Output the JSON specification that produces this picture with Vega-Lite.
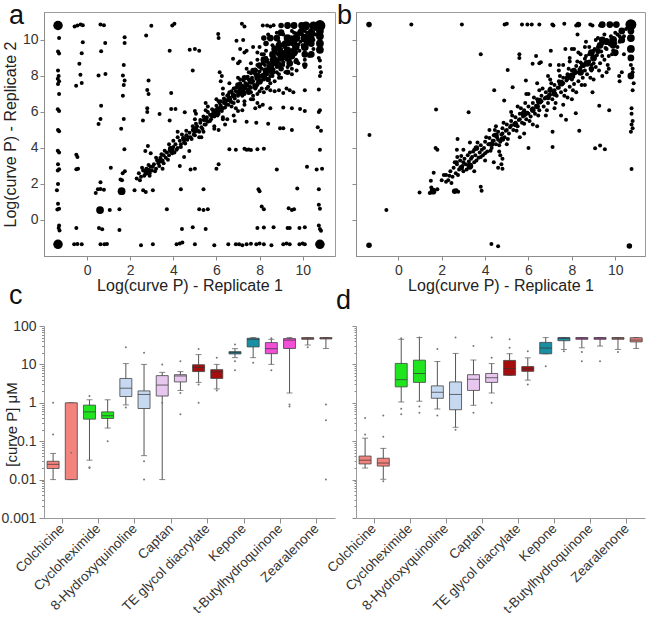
{
  "$schema": "https://vega.github.io/schema/vega-lite/v6.json",
  "padding": {"left": 0, "top": 1, "right": 0, "bottom": 0},
  "background": "white",
  "config": {
    "font": "Liberation Sans",
    "view": {"stroke": null},
    "axis": {
      "labelFont": "Liberation Sans", "labelFontSize": 14, "labelColor": "#333333",
      "titleFont": "Liberation Sans", "titleFontWeight": "normal", "titleFontSize": 16, "titleColor": "#222222",
      "domainColor": "#8c8c8c", "tickColor": "#8c8c8c", "grid": false, "tickSize": 4, "labelPadding": 2
    },
    "title": {"font": "Liberation Sans", "fontWeight": "normal", "fontSize": 27, "color": "#111111", "anchor": "start", "frame": "group", "offset": 0, "baseline": "alphabetic"}
  },
  "datasets": {
    "a_pts": [
      {"x":-1.3,"y":10.1},{"x":-1.35,"y":9.35},{"x":-1.3,"y":9.25},{"x":-1.35,"y":8.3},{"x":-1.32,"y":8.0},{"x":-1.36,"y":7.85},{"x":-1.3,"y":7.7},{"x":-1.35,"y":7.55},{"x":-1.3,"y":7.0},{"x":-1.36,"y":6.15},{"x":-1.3,"y":6.05},{"x":-1.35,"y":5.0},{"x":-1.3,"y":4.93},{"x":-1.36,"y":3.85},{"x":-1.3,"y":3.75},{"x":-1.35,"y":3.1},{"x":-1.36,"y":2.75},{"x":-1.3,"y":2.82},{"x":-1.35,"y":2.0},{"x":-1.4,"y":1.65},{"x":-1.35,"y":0.9},{"x":-1.3,"y":0.62},{"x":-1.38,"y":0.58},{"x":-1.3,"y":-0.3},{"x":-1.32,"y":-0.45},{"x":-1.28,"y":-0.58},
      {"x":-0.58,"y":10.75},{"x":-0.45,"y":10.8},{"x":-0.3,"y":10.85},{"x":-0.2,"y":10.82},{"x":0.62,"y":10.85},{"x":0.78,"y":10.82},{"x":2.98,"y":10.78},{"x":3.95,"y":10.8},{"x":4.05,"y":10.9},{"x":7.18,"y":10.9},{"x":7.3,"y":10.75},{"x":8.15,"y":10.8},{"x":8.35,"y":10.8},{"x":8.5,"y":10.75},{"x":8.65,"y":10.82},
      {"x":-0.2,"y":9.87},{"x":-0.25,"y":9.26},{"x":-0.36,"y":8.67},{"x":-0.31,"y":8.07},{"x":-0.51,"y":7.46},{"x":-0.25,"y":7.61},{"x":-0.5,"y":3.62},{"x":-0.45,"y":3.5},{"x":-0.5,"y":2.82},{"x":-0.42,"y":2.85},{"x":-0.5,"y":-0.45},
      {"x":0.84,"y":9.83},{"x":0.65,"y":9.37},{"x":0.53,"y":8.02},{"x":0.85,"y":8.11},{"x":0.65,"y":6.35},{"x":0.62,"y":5.61},{"x":0.53,"y":5.33},{"x":0.62,"y":2.1},{"x":0.5,"y":1.7},{"x":0.62,"y":1.72},{"x":0.78,"y":1.68},{"x":0.4,"y":1.5},{"x":0.55,"y":-0.45},{"x":0.7,"y":-0.52},{"x":0.62,"y":-1.35},{"x":0.8,"y":-1.35},{"x":0.92,"y":-1.33},
      {"x":1.74,"y":10.15},{"x":1.74,"y":9.83},{"x":1.7,"y":8.61},{"x":1.66,"y":8.02},{"x":1.74,"y":7.74},{"x":1.7,"y":7.5},{"x":1.66,"y":6.9},{"x":1.7,"y":5.61},{"x":1.58,"y":5.06},{"x":1.73,"y":3.93},{"x":1.1,"y":2.9},{"x":1.75,"y":2.7},{"x":1.65,"y":2.6},{"x":1.55,"y":2.25},{"x":1.62,"y":2.2},{"x":1.05,"y":0.55},{"x":1.5,"y":0.6},{"x":1.5,"y":-0.55},
      {"x":2.74,"y":10.24},{"x":2.85,"y":7.74},{"x":2.79,"y":7.22},{"x":2.85,"y":7.0},{"x":2.79,"y":6.2},{"x":2.79,"y":6.0},{"x":2.59,"y":5.52},{"x":2.2,"y":1.65},{"x":2.6,"y":1.65},{"x":2.72,"y":1.55},{"x":3.05,"y":1.65},{"x":2.5,"y":-1.4},{"x":3.05,"y":-1.35},
      {"x":3.83,"y":9.4},{"x":4.76,"y":9.46},{"x":3.9,"y":7.05},{"x":3.36,"y":5.89},{"x":3.9,"y":6.17},{"x":4.1,"y":6.17},{"x":4.53,"y":5.98},{"x":3.83,"y":5.52},{"x":3.7,"y":0.6},{"x":4.35,"y":1.7},{"x":4.4,"y":-0.5},{"x":4.15,"y":-1.35},{"x":4.3,"y":-1.3},{"x":4.42,"y":-1.25},{"x":2.82,"y":4.11},{"x":2.7,"y":3.83},{"x":2.95,"y":3.7},
      {"x":4.9,"y":8.3},{"x":5.0,"y":9.5},{"x":5.2,"y":9.4},{"x":6.08,"y":10.33},{"x":6.1,"y":10.1},{"x":6.15,"y":8.2},{"x":6.25,"y":8.0},{"x":6.2,"y":7.7},{"x":6.3,"y":7.3},{"x":5.0,"y":6.05},{"x":5.05,"y":5.9},{"x":4.8,"y":2.8},{"x":5.0,"y":2.85},{"x":4.74,"y":3.83},{"x":6.0,"y":2.85},{"x":6.1,"y":3.1},{"x":5.9,"y":5.07},{"x":6.1,"y":5.0},{"x":5.4,"y":1.7},{"x":5.2,"y":0.6},{"x":5.4,"y":0.55},{"x":5.6,"y":0.6},{"x":4.9,"y":-0.4},{"x":5.5,"y":-0.5},{"x":5.0,"y":-1.35},{"x":5.9,"y":-1.4},
      {"x":6.6,"y":3.93},{"x":6.9,"y":3.9},{"x":7.3,"y":3.95},{"x":7.4,"y":3.9},{"x":7.5,"y":3.92},{"x":7.6,"y":3.88},{"x":7.9,"y":3.93},{"x":8.2,"y":3.95},{"x":10.8,"y":3.9},
      {"x":8.8,"y":2.8},{"x":10.2,"y":2.95},{"x":10.65,"y":2.8},{"x":10.9,"y":2.85},
      {"x":7.95,"y":1.7},{"x":8.0,"y":1.6},{"x":9.75,"y":1.75},{"x":10.75,"y":1.7},
      {"x":8.1,"y":0.75},{"x":8.2,"y":0.6},{"x":9.35,"y":0.65},{"x":9.5,"y":0.55},{"x":9.6,"y":0.6},{"x":10.75,"y":0.85},{"x":10.8,"y":0.62},
      {"x":7.9,"y":-0.45},{"x":8.2,"y":-0.42},{"x":8.65,"y":-0.4},{"x":9.3,"y":-0.45},{"x":9.4,"y":-0.45},{"x":9.85,"y":-0.45},{"x":10.1,"y":-0.4},{"x":10.75,"y":-0.3},{"x":10.8,"y":-0.5},{"x":10.85,"y":-0.6},
      {"x":6.55,"y":-1.35},{"x":6.9,"y":-1.35},{"x":7.05,"y":-1.35},{"x":7.2,"y":-1.4},{"x":7.4,"y":-1.35},{"x":7.6,"y":-1.32},{"x":7.85,"y":-1.35},{"x":8.0,"y":-1.3},{"x":8.2,"y":-1.35},{"x":8.55,"y":-1.4},{"x":9.1,"y":-1.35},{"x":9.25,"y":-1.3},{"x":9.4,"y":-1.35},{"x":9.85,"y":-1.35},{"x":10.0,"y":-1.3},{"x":10.1,"y":-1.35},{"x":-0.6,"y":-1.35},{"x":-0.45,"y":-1.33},{"x":-0.25,"y":-1.35},
      {"x":6.85,"y":5.5},{"x":7.4,"y":5.45},{"x":7.85,"y":5.4},{"x":8.4,"y":5.35},{"x":8.95,"y":5.1},{"x":9.1,"y":5.1},{"x":9.5,"y":5.0},{"x":10.7,"y":5.15},{"x":10.85,"y":4.95},
      {"x":7.0,"y":6.05},{"x":7.2,"y":6.1},{"x":7.8,"y":6.2},{"x":8.0,"y":6.3},{"x":8.5,"y":6.2},{"x":9.1,"y":6.25},{"x":9.5,"y":6.2},{"x":9.88,"y":6.16},{"x":10.1,"y":6.05},{"x":10.8,"y":6.1},{"x":10.75,"y":6.0},
      {"x":8.33,"y":7.3},{"x":8.5,"y":7.2},{"x":8.7,"y":7.15},{"x":8.9,"y":7.2},{"x":9.1,"y":7.05},{"x":9.25,"y":7.3},{"x":9.4,"y":7.2},{"x":9.57,"y":7.1},{"x":10.1,"y":7.2},{"x":10.75,"y":7.25},{"x":7.7,"y":6.7},{"x":7.9,"y":6.5},{"x":8.15,"y":6.4},
      {"x":10.75,"y":9.0},{"x":10.8,"y":8.85},{"x":10.8,"y":8.5},{"x":10.85,"y":8.2},{"x":10.8,"y":8.0},
      {"x":6.93,"y":9.96},{"x":7.24,"y":10.0},{"x":7.1,"y":9.5},{"x":7.3,"y":9.3},{"x":7.4,"y":9.4},{"x":8.0,"y":9.6},{"x":8.2,"y":9.2},{"x":8.3,"y":9.0},{"x":6.77,"y":8.95},{"x":7.0,"y":8.7},{"x":7.08,"y":8.8},{"x":10.1,"y":8.5},{"x":9.72,"y":8.3},{"x":9.5,"y":8.1},{"x":9.2,"y":8.2},{"x":8.9,"y":8.1},{"x":8.6,"y":8.0},
      {"x":2.3,"y":2.3},{"x":2.4,"y":2.6},{"x":2.5,"y":2.4},{"x":2.6,"y":2.75},{"x":2.7,"y":2.55},{"x":2.75,"y":2.85},{"x":2.9,"y":2.6},{"x":2.95,"y":2.95},{"x":3.0,"y":2.75},{"x":3.1,"y":3.1},{"x":3.2,"y":2.85},{"x":3.25,"y":3.3},{"x":3.3,"y":3.15},{"x":3.4,"y":3.45},{"x":3.5,"y":3.3},{"x":3.55,"y":3.6},{"x":3.65,"y":3.45},{"x":3.7,"y":3.75},{"x":3.8,"y":3.6},{"x":3.85,"y":4.0},{"x":4.0,"y":4.05},{"x":4.05,"y":3.75},{"x":4.1,"y":4.2},{"x":4.2,"y":4.0},{"x":4.3,"y":4.4},{"x":4.35,"y":4.2},{"x":4.45,"y":4.55},{"x":4.5,"y":4.3},{"x":4.6,"y":4.7},{"x":4.65,"y":4.45},{"x":4.75,"y":4.85},{"x":4.8,"y":4.6},{"x":4.9,"y":5.0},{"x":4.95,"y":4.75},{"x":5.1,"y":5.2},{"x":5.15,"y":4.95},{"x":5.25,"y":5.4},{"x":5.3,"y":5.15},{"x":5.4,"y":5.55},{"x":5.45,"y":5.3},{"x":5.55,"y":5.7},{"x":5.6,"y":5.45},{"x":5.7,"y":5.85},{"x":5.75,"y":5.6},{"x":5.85,"y":6.0},{"x":5.9,"y":5.75},{"x":6.05,"y":6.2},{"x":6.1,"y":5.9},{"x":6.2,"y":6.35},{"x":6.25,"y":6.05},{"x":6.35,"y":6.5},{"x":6.4,"y":6.25},{"x":6.5,"y":6.65},{"x":6.55,"y":6.4},{"x":6.6,"y":6.8},{"x":6.7,"y":6.55},{"x":6.75,"y":7.0},{"x":6.85,"y":6.75},{"x":6.9,"y":7.15},{"x":7.0,"y":6.9},{"x":7.05,"y":7.3},{"x":7.15,"y":7.0},{"x":7.2,"y":7.45},{"x":7.3,"y":7.1},{"x":7.35,"y":7.6},{"x":7.45,"y":7.25},{"x":7.5,"y":7.8},{"x":7.6,"y":7.35},{"x":7.65,"y":7.9},{"x":7.75,"y":7.5},{"x":7.8,"y":8.1},{"x":7.9,"y":7.6},{"x":8.0,"y":8.25},{"x":8.05,"y":7.7},{"x":8.1,"y":8.4},{"x":8.2,"y":7.9},{"x":8.25,"y":8.6},{"x":8.35,"y":8.1},{"x":8.4,"y":8.75},{"x":8.5,"y":8.2},{"x":8.55,"y":8.9},{"x":8.65,"y":8.35},{"x":8.7,"y":9.05},{"x":8.8,"y":8.5},{"x":8.85,"y":9.2},{"x":8.95,"y":8.6},{"x":9.0,"y":9.5},{"x":9.1,"y":8.75},{"x":9.15,"y":9.6},{"x":9.25,"y":8.9},{"x":9.35,"y":9.75},{"x":9.45,"y":9.05},{"x":9.55,"y":9.95},{"x":9.65,"y":9.2},{"x":9.75,"y":10.1},{"x":9.85,"y":9.4},{"x":9.95,"y":10.3},{"x":10.05,"y":9.55},{"x":10.2,"y":10.4},{"x":10.3,"y":9.8},{"x":10.4,"y":10.6},{"x":10.5,"y":10.0},
      {"x":6.5,"y":5.6},{"x":6.8,"y":5.8},{"x":7.3,"y":6.4},{"x":7.6,"y":6.7},{"x":7.9,"y":7.0},{"x":8.2,"y":7.1},{"x":8.4,"y":7.4},{"x":8.7,"y":7.7},{"x":9.0,"y":7.9},{"x":9.3,"y":8.2},{"x":9.5,"y":8.4},{"x":9.8,"y":8.7},{"x":10.1,"y":8.9},{"x":10.3,"y":9.1},{"x":7.2,"y":7.15},{"x":7.5,"y":7.2},{"x":7.8,"y":7.3},{"x":8.0,"y":7.15},
      {"x":3.5,"y":2.85},{"x":4.5,"y":3.5},{"x":4.3,"y":3.0},{"x":5.5,"y":6.1},{"x":5.2,"y":4.6},{"x":5.4,"y":4.9},{"x":6.3,"y":5.6},{"x":6.4,"y":5.3},{"x":4.2,"y":4.9},{"x":5.5,"y":6.5},{"x":6.0,"y":6.7},{"x":6.3,"y":7.0},{"x":6.6,"y":7.6},{"x":7.0,"y":7.9},{"x":7.4,"y":8.4},{"x":7.6,"y":8.7},{"x":7.9,"y":8.9},{"x":8.1,"y":9.2},{"x":7.7,"y":9.6},{"x":7.9,"y":9.3},{"x":8.3,"y":9.4},{"x":8.6,"y":9.7},{"x":8.9,"y":9.9},{"x":9.1,"y":10.3},{"x":8.8,"y":10.4},{"x":8.4,"y":10.3},{"x":9.6,"y":10.4},{"x":10.0,"y":10.6},
      {"x":2.45,"y":2.2},{"x":2.55,"y":2.9},{"x":2.65,"y":2.45},{"x":2.85,"y":3.05},{"x":2.9,"y":2.45},{"x":3.05,"y":2.95},{"x":3.15,"y":2.7},{"x":3.2,"y":3.45},{"x":3.35,"y":3.0},{"x":3.45,"y":3.65},{"x":3.55,"y":3.15},{"x":3.6,"y":3.85},{"x":3.75,"y":3.35},{"x":3.8,"y":4.2},{"x":3.95,"y":3.7},{"x":4.0,"y":4.4},{"x":4.15,"y":3.9},{"x":4.2,"y":4.6},{"x":4.35,"y":4.05},{"x":4.4,"y":4.75},{"x":4.55,"y":4.25},{"x":4.6,"y":4.95},{"x":4.7,"y":4.6},{"x":4.85,"y":4.5},{"x":4.9,"y":5.2},{"x":5.0,"y":4.7},{"x":5.05,"y":5.35},{"x":5.2,"y":4.9},{"x":5.25,"y":5.55},{"x":5.35,"y":5.05},{"x":5.4,"y":5.75},{"x":5.5,"y":5.3},{"x":5.6,"y":6.0},{"x":5.7,"y":5.5},{"x":5.8,"y":6.15},{"x":5.9,"y":5.9},{"x":6.0,"y":6.35},{"x":6.05,"y":5.8},{"x":6.15,"y":6.5},{"x":6.3,"y":6.2},{"x":6.35,"y":6.75},{"x":6.45,"y":6.4},{"x":6.55,"y":6.95},{"x":6.65,"y":6.6},{"x":6.7,"y":7.15},{"x":6.8,"y":6.5},{"x":6.9,"y":7.35},{"x":7.0,"y":7.0},{"x":7.1,"y":7.55},{"x":7.2,"y":6.9},{"x":7.25,"y":7.75},{"x":7.35,"y":7.3},{"x":7.45,"y":7.95},{"x":7.55,"y":7.4},{"x":7.6,"y":8.15},{"x":7.7,"y":7.7},{"x":7.8,"y":8.35},{"x":7.85,"y":7.85},{"x":7.95,"y":8.55},{"x":8.05,"y":8.0},{"x":8.15,"y":8.7},{"x":8.25,"y":8.15},{"x":8.35,"y":8.9},{"x":8.45,"y":8.4},{"x":8.55,"y":9.1},{"x":8.6,"y":8.6},{"x":8.75,"y":9.3},{"x":8.8,"y":8.8},{"x":8.9,"y":9.45},{"x":9.0,"y":8.95},{"x":9.1,"y":9.7},{"x":9.2,"y":9.2},{"x":9.3,"y":9.9},{"x":9.4,"y":9.35},{"x":9.5,"y":10.15},{"x":9.6,"y":9.6},{"x":9.7,"y":10.35},{"x":9.8,"y":9.75},{"x":9.9,"y":10.55},{"x":10.0,"y":10.0},{"x":10.2,"y":10.65},{"x":10.3,"y":10.3},{"x":10.45,"y":10.45},{"x":10.6,"y":10.6},
      {"x":5.0,"y":5.6},{"x":5.3,"y":4.6},{"x":5.6,"y":6.3},{"x":5.9,"y":5.2},{"x":6.1,"y":6.6},{"x":6.3,"y":5.7},{"x":6.6,"y":7.1},{"x":6.9,"y":6.2},{"x":7.1,"y":7.8},{"x":7.3,"y":6.6},{"x":7.5,"y":8.2},{"x":7.7,"y":6.9},{"x":7.9,"y":8.6},{"x":8.1,"y":7.3},{"x":8.3,"y":9.0},{"x":8.5,"y":7.6},{"x":8.7,"y":9.4},{"x":8.9,"y":7.9},{"x":9.1,"y":9.8},{"x":9.3,"y":8.5},{"x":9.5,"y":10.5},{"x":9.7,"y":8.9},{"x":9.9,"y":9.9},{"x":10.1,"y":9.3},{"x":10.3,"y":10.8},{"x":10.5,"y":9.5},{"x":6.7,"y":6.3},{"x":7.0,"y":6.6},{"x":7.3,"y":7.0},{"x":7.6,"y":7.1},{"x":7.9,"y":7.5},{"x":8.2,"y":7.8},{"x":8.5,"y":8.0},{"x":8.8,"y":8.2},{"x":9.1,"y":8.6},{"x":9.4,"y":8.9},{"x":9.7,"y":9.3},{"x":10.0,"y":9.7},{"x":10.3,"y":10.0},{"x":10.6,"y":10.3},{"x":6.2,"y":6.6},{"x":6.5,"y":6.9},{"x":6.8,"y":7.3},{"x":7.1,"y":7.6},{"x":7.4,"y":7.9},{"x":7.7,"y":8.2},{"x":8.0,"y":8.5},{"x":8.3,"y":8.8},{"x":8.6,"y":9.1},{"x":8.9,"y":9.3},{"x":9.2,"y":9.6},{"x":9.5,"y":9.8},{"x":9.8,"y":10.1},{"x":10.1,"y":10.5}
    ],
    "a_blobs": [
      {"x":-1.35,"y":10.8,"n":6},{"x":-1.35,"y":-1.35,"n":6},{"x":10.8,"y":-1.35,"n":6},{"x":10.8,"y":10.8,"n":8},{"x":10.8,"y":10.2,"n":4},{"x":10.8,"y":9.8,"n":4},{"x":10.8,"y":9.45,"n":4},{"x":10.15,"y":10.8,"n":4},{"x":9.95,"y":10.8,"n":3},{"x":9.6,"y":10.8,"n":3},{"x":9.3,"y":10.8,"n":3},{"x":9.0,"y":10.8,"n":2},{"x":10.1,"y":10.1,"n":5},{"x":10.1,"y":9.6,"n":4},{"x":10.1,"y":9.2,"n":3},{"x":9.3,"y":10.1,"n":4},{"x":9.5,"y":9.9,"n":4},{"x":9.3,"y":9.4,"n":4},{"x":9.0,"y":9.0,"n":4},{"x":9.6,"y":9.4,"n":3},{"x":8.7,"y":8.8,"n":6},{"x":8.5,"y":8.5,"n":4},{"x":8.3,"y":8.3,"n":3},{"x":8.5,"y":10.1,"n":3},{"x":8.3,"y":9.8,"n":2},{"x":8.7,"y":9.5,"n":3},{"x":9.0,"y":9.3,"n":3},{"x":8.2,"y":10.1,"n":2},{"x":7.9,"y":8.0,"n":3},{"x":7.6,"y":7.7,"n":3},{"x":7.4,"y":7.5,"n":2},{"x":7.1,"y":7.1,"n":3},{"x":6.8,"y":6.9,"n":2},{"x":6.0,"y":6.0,"n":4},{"x":5.0,"y":5.0,"n":3},{"x":3.9,"y":3.9,"n":3},{"x":2.8,"y":2.7,"n":4},{"x":0.6,"y":0.55,"n":4},{"x":1.6,"y":1.6,"n":4},{"x":9.7,"y":8.8,"n":2},{"x":9.3,"y":8.2,"n":2},
      {"x":8.2,"y":8.9,"n":3},{"x":8.6,"y":9.2,"n":3},{"x":8.9,"y":9.7,"n":3},{"x":9.2,"y":9.8,"n":3},{"x":9.7,"y":10.1,"n":4},{"x":9.7,"y":9.6,"n":3},{"x":10.4,"y":10.4,"n":4},{"x":10.4,"y":9.8,"n":3},{"x":10.5,"y":10.8,"n":4},{"x":8.8,"y":10.1,"n":3},{"x":9.0,"y":10.4,"n":3},{"x":8.0,"y":8.6,"n":2},{"x":7.7,"y":8.3,"n":2},{"x":7.3,"y":7.9,"n":2},{"x":9.4,"y":8.7,"n":3},{"x":9.0,"y":8.4,"n":2},{"x":10.1,"y":8.6,"n":2},{"x":10.4,"y":9.2,"n":3},{"x":7.0,"y":7.5,"n":2},{"x":6.4,"y":6.6,"n":2},{"x":5.5,"y":5.6,"n":2},{"x":4.5,"y":4.5,"n":2},{"x":3.4,"y":3.3,"n":2},{"x":6.2,"y":6.2,"n":2},{"x":7.8,"y":7.4,"n":2},{"x":8.4,"y":7.8,"n":2},
      {"x":7.2,"y":7.3,"n":3},{"x":7.5,"y":7.1,"n":2},{"x":8.0,"y":7.7,"n":3},{"x":8.2,"y":8.0,"n":3},{"x":8.9,"y":8.6,"n":3},{"x":9.2,"y":9.1,"n":4},{"x":9.6,"y":9.8,"n":3},{"x":9.9,"y":10.4,"n":3},{"x":10.4,"y":10.1,"n":3},{"x":10.8,"y":10.5,"n":4},{"x":8.6,"y":8.2,"n":2},{"x":9.5,"y":9.1,"n":3},{"x":10.2,"y":9.9,"n":3},{"x":7.8,"y":8.3,"n":2},{"x":6.6,"y":6.7,"n":2},{"x":5.8,"y":5.8,"n":2}
    ],
    "b_pts": [
      {"x":0.6,"y":10.85},{"x":2.93,"y":10.85},{"x":4.9,"y":10.85},{"x":5.0,"y":10.9},{"x":5.7,"y":10.85},{"x":5.95,"y":10.85},{"x":6.15,"y":10.85},{"x":6.5,"y":10.85},{"x":7.1,"y":10.85},{"x":7.15,"y":10.8},{"x":7.65,"y":10.9},{"x":8.2,"y":10.8},{"x":8.85,"y":10.85},{"x":8.95,"y":10.8},{"x":9.3,"y":10.8},
      {"x":-1.33,"y":4.72},{"x":-0.55,"y":0.55},{"x":0.98,"y":1.52},{"x":1.74,"y":6.13},{"x":2.73,"y":4.5},{"x":1.72,"y":4.0},{"x":1.8,"y":3.9},{"x":3.24,"y":5.98},{"x":3.8,"y":1.85},{"x":3.84,"y":1.63},{"x":4.29,"y":-1.33},{"x":4.6,"y":-1.46},{"x":10.75,"y":2.83},{"x":9.72,"y":6.1},{"x":9.26,"y":6.35},{"x":9.07,"y":3.98},{"x":9.3,"y":4.13},{"x":9.52,"y":3.93},{"x":8.34,"y":4.96},{"x":7.11,"y":4.05},{"x":6.0,"y":4.0},{"x":7.11,"y":4.9},{"x":7.73,"y":5.56},{"x":8.18,"y":5.93},{"x":10.75,"y":6.2},{"x":10.75,"y":5.9},{"x":10.8,"y":5.5},{"x":10.75,"y":5.3},{"x":10.8,"y":5.1},{"x":10.72,"y":4.9},{"x":10.8,"y":7.2},{"x":10.85,"y":7.6},{"x":10.8,"y":8.2},{"x":10.18,"y":8.0},{"x":4.42,"y":7.2},{"x":5.04,"y":8.33},{"x":5.88,"y":7.74},{"x":5.27,"y":7.37},{"x":4.88,"y":6.63},{"x":6.19,"y":8.67},{"x":6.57,"y":8.76},{"x":3.8,"y":9.2},{"x":5.58,"y":9.2},{"x":5.58,"y":9.0},{"x":7.03,"y":9.4},{"x":6.35,"y":9.1},{"x":10.0,"y":9.2},{"x":9.7,"y":8.4},{"x":10.2,"y":7.7},
      {"x":2.6,"y":1.62},{"x":2.68,"y":1.65},{"x":2.76,"y":1.57},{"x":2.0,"y":2.2},{"x":1.5,"y":2.18},{"x":1.63,"y":2.63},{"x":2.1,"y":2.5},{"x":2.2,"y":2.13},{"x":1.45,"y":1.5},{"x":1.8,"y":1.7},{"x":1.52,"y":1.8},{"x":2.7,"y":3.9},{"x":2.72,"y":3.5},{"x":2.69,"y":3.2},{"x":4.4,"y":3.2},{"x":4.6,"y":2.9},{"x":4.8,"y":3.4},{"x":4.65,"y":3.8},{"x":4.7,"y":3.6},{"x":4.75,"y":3.1},{"x":4.8,"y":2.85},{"x":5.6,"y":4.6},
      {"x":2.2,"y":2.5},{"x":2.3,"y":2.2},{"x":2.4,"y":2.7},{"x":2.5,"y":2.4},{"x":2.55,"y":2.9},{"x":2.65,"y":2.6},{"x":2.7,"y":3.1},{"x":2.8,"y":2.8},{"x":2.85,"y":3.3},{"x":2.95,"y":3.0},{"x":3.0,"y":2.7},{"x":3.05,"y":3.4},{"x":3.1,"y":3.1},{"x":3.2,"y":3.6},{"x":3.25,"y":3.25},{"x":3.3,"y":2.9},{"x":3.4,"y":3.5},{"x":3.45,"y":3.8},{"x":3.5,"y":3.2},{"x":3.55,"y":3.6},{"x":3.6,"y":3.95},{"x":3.7,"y":3.45},{"x":3.75,"y":3.75},{"x":3.8,"y":4.15},{"x":3.9,"y":3.6},{"x":3.95,"y":4.0},{"x":4.0,"y":4.35},{"x":4.1,"y":3.8},{"x":4.15,"y":4.2},{"x":4.2,"y":4.55},{"x":4.3,"y":4.0},{"x":4.35,"y":4.4},{"x":4.4,"y":4.7},{"x":4.5,"y":4.2},{"x":4.55,"y":4.6},{"x":4.6,"y":4.9},{"x":4.7,"y":4.35},{"x":4.75,"y":4.75},{"x":4.8,"y":5.1},{"x":4.9,"y":4.6},{"x":4.95,"y":4.95},{"x":5.0,"y":5.3},{"x":5.1,"y":4.8},{"x":5.15,"y":5.15},{"x":5.2,"y":5.5},{"x":5.3,"y":5.0},{"x":5.35,"y":5.35},{"x":5.4,"y":5.7},{"x":5.5,"y":5.2},{"x":5.55,"y":5.55},{"x":5.6,"y":5.9},{"x":5.7,"y":5.4},{"x":5.75,"y":5.75},{"x":5.8,"y":6.1},{"x":5.9,"y":5.6},{"x":5.95,"y":5.95},{"x":6.0,"y":6.3},{"x":6.1,"y":5.75},{"x":6.15,"y":6.15},{"x":6.2,"y":6.5},{"x":6.3,"y":5.9},{"x":6.35,"y":6.35},{"x":6.4,"y":6.7},{"x":6.5,"y":6.1},{"x":6.55,"y":6.55},{"x":6.6,"y":6.9},{"x":6.7,"y":6.3},{"x":6.75,"y":6.75},{"x":6.8,"y":7.1},{"x":6.9,"y":6.5},{"x":6.95,"y":6.95},{"x":7.0,"y":7.3},{"x":7.1,"y":6.7},{"x":7.15,"y":7.15},{"x":7.2,"y":7.5},{"x":7.3,"y":6.9},{"x":7.35,"y":7.35},{"x":7.4,"y":7.7},{"x":7.5,"y":7.1},{"x":7.55,"y":7.55},{"x":7.6,"y":7.9},{"x":7.7,"y":7.2},{"x":7.75,"y":7.75},{"x":7.8,"y":8.1},{"x":7.9,"y":7.4},{"x":7.95,"y":7.95},{"x":8.0,"y":8.3},{"x":8.1,"y":7.55},{"x":8.15,"y":8.15},{"x":8.2,"y":8.55},{"x":8.3,"y":7.7},{"x":8.35,"y":8.35},{"x":8.4,"y":8.75},{"x":8.5,"y":7.9},{"x":8.55,"y":8.55},{"x":8.6,"y":8.95},{"x":8.7,"y":8.1},{"x":8.75,"y":8.75},{"x":8.8,"y":9.2},{"x":8.9,"y":8.3},{"x":8.95,"y":8.95},{"x":9.0,"y":9.4},{"x":9.1,"y":8.5},{"x":9.15,"y":9.15},{"x":9.2,"y":9.6},{"x":9.3,"y":8.7},{"x":9.35,"y":9.35},{"x":9.4,"y":9.8},{"x":9.5,"y":8.9},{"x":9.55,"y":9.55},{"x":9.6,"y":10.0},{"x":9.7,"y":9.1},{"x":9.75,"y":9.75},{"x":9.8,"y":10.2},{"x":9.9,"y":9.4},{"x":10.0,"y":10.4},{"x":10.1,"y":9.6},{"x":10.2,"y":10.2},
      {"x":3.0,"y":3.9},{"x":3.5,"y":2.7},{"x":4.0,"y":3.3},{"x":4.5,"y":5.2},{"x":5.0,"y":4.2},{"x":5.5,"y":6.3},{"x":5.8,"y":4.8},{"x":6.2,"y":5.3},{"x":6.5,"y":7.2},{"x":6.8,"y":5.8},{"x":7.0,"y":7.8},{"x":7.2,"y":6.2},{"x":7.4,"y":8.3},{"x":7.8,"y":6.8},{"x":7.9,"y":8.8},{"x":8.2,"y":7.1},{"x":8.4,"y":9.2},{"x":8.6,"y":7.5},{"x":8.8,"y":9.6},{"x":9.0,"y":7.8},{"x":9.2,"y":10.1},{"x":9.6,"y":8.2},{"x":6.0,"y":7.0},{"x":6.4,"y":5.2},{"x":7.6,"y":6.4},{"x":8.1,"y":9.5},{"x":5.2,"y":6.0},{"x":4.2,"y":5.0},{"x":3.3,"y":4.3},{"x":8.0,"y":6.7},{"x":7.5,"y":5.8},{"x":8.95,"y":7.1},
      {"x":10.72,"y":8.6},{"x":10.8,"y":8.4},{"x":10.7,"y":9.0},{"x":10.4,"y":9.2},{"x":10.3,"y":8.2},{"x":8.26,"y":10.3},{"x":8.65,"y":9.9},{"x":7.7,"y":9.5},{"x":8.0,"y":9.5},{"x":7.6,"y":8.6},{"x":7.0,"y":8.6},{"x":6.5,"y":8.7},{"x":8.9,"y":8.6},{"x":9.4,"y":8.0},
      {"x":2.35,"y":2.45},{"x":2.45,"y":2.05},{"x":2.6,"y":3.2},{"x":2.75,"y":2.5},{"x":2.9,"y":3.55},{"x":3.0,"y":3.2},{"x":3.15,"y":2.8},{"x":3.3,"y":3.75},{"x":3.35,"y":3.4},{"x":3.5,"y":3.9},{"x":3.6,"y":3.3},{"x":3.65,"y":4.3},{"x":3.8,"y":3.5},{"x":3.85,"y":3.9},{"x":4.0,"y":3.7},{"x":4.05,"y":4.6},{"x":4.2,"y":4.2},{"x":4.25,"y":3.85},{"x":4.4,"y":4.4},{"x":4.45,"y":5.0},{"x":4.6,"y":4.45},{"x":4.65,"y":4.15},{"x":4.8,"y":4.8},{"x":4.85,"y":5.4},{"x":5.0,"y":5.0},{"x":5.05,"y":4.5},{"x":5.2,"y":5.25},{"x":5.25,"y":5.8},{"x":5.4,"y":5.4},{"x":5.45,"y":4.95},{"x":5.6,"y":5.6},{"x":5.65,"y":6.2},{"x":5.8,"y":5.35},{"x":5.85,"y":6.5},{"x":6.0,"y":5.9},{"x":6.05,"y":5.5},{"x":6.2,"y":6.2},{"x":6.25,"y":6.8},{"x":6.4,"y":6.35},{"x":6.45,"y":5.8},{"x":6.6,"y":6.6},{"x":6.65,"y":7.3},{"x":6.8,"y":6.8},{"x":6.85,"y":6.1},{"x":7.0,"y":6.95},{"x":7.05,"y":7.6},{"x":7.2,"y":7.2},{"x":7.25,"y":6.5},{"x":7.4,"y":7.35},{"x":7.45,"y":8.0},{"x":7.6,"y":7.6},{"x":7.65,"y":6.9},{"x":7.8,"y":7.85},{"x":7.85,"y":8.4},{"x":8.0,"y":7.8},{"x":8.05,"y":7.2},{"x":8.2,"y":8.2},{"x":8.25,"y":8.8},{"x":8.4,"y":8.45},{"x":8.45,"y":7.5},{"x":8.6,"y":8.3},{"x":8.65,"y":9.1},{"x":8.8,"y":8.8},{"x":8.85,"y":7.9},{"x":9.0,"y":8.7},{"x":9.05,"y":9.5},{"x":9.2,"y":9.3},{"x":9.25,"y":8.3},{"x":9.4,"y":9.1},{"x":9.45,"y":9.9},{"x":9.6,"y":9.5},{"x":9.65,"y":8.6},{"x":9.8,"y":9.85},{"x":9.85,"y":9.2},{"x":10.0,"y":9.8},{"x":10.1,"y":10.3},{"x":10.2,"y":9.9},{"x":10.3,"y":10.5},{"x":10.4,"y":10.2},{"x":10.5,"y":10.6},{"x":9.5,"y":10.3},{"x":9.1,"y":10.0},{"x":8.6,"y":9.6},{"x":8.3,"y":9.3},{"x":7.9,"y":9.0},{"x":7.4,"y":8.6},{"x":6.9,"y":8.0},{"x":6.4,"y":7.6},{"x":5.9,"y":7.0}
    ],
    "b_blobs": [
      {"x":10.72,"y":10.85,"n":8},{"x":10.05,"y":10.85,"n":3},{"x":9.75,"y":10.85,"n":3},{"x":9.4,"y":10.85,"n":3},{"x":8.3,"y":10.85,"n":2},{"x":10.72,"y":10.1,"n":4},{"x":10.72,"y":9.5,"n":4},{"x":10.72,"y":8.0,"n":3},{"x":9.9,"y":10.0,"n":4},{"x":9.4,"y":10.0,"n":3},{"x":10.0,"y":9.3,"n":3},{"x":9.0,"y":9.0,"n":3},{"x":8.7,"y":8.7,"n":3},{"x":8.4,"y":8.2,"n":3},{"x":5.8,"y":5.9,"n":3},{"x":4.8,"y":4.5,"n":2},{"x":3.3,"y":3.0,"n":3},{"x":1.6,"y":1.6,"n":3},{"x":-1.35,"y":10.85,"n":2},{"x":-1.35,"y":-1.4,"n":2},{"x":10.65,"y":-1.44,"n":2},{"x":6.5,"y":6.6,"n":3},{"x":7.5,"y":7.6,"n":3},{"x":8.0,"y":8.0,"n":3},{"x":3.6,"y":4.0,"n":2},{"x":4.5,"y":4.7,"n":2},
      {"x":10.3,"y":10.5,"n":3},{"x":9.9,"y":9.7,"n":3},{"x":9.2,"y":9.4,"n":2},{"x":8.9,"y":8.4,"n":2},{"x":8.1,"y":8.3,"n":2},{"x":7.2,"y":7.0,"n":2},{"x":6.9,"y":6.8,"n":2},{"x":6.2,"y":6.1,"n":2},{"x":5.4,"y":5.3,"n":2},{"x":4.3,"y":4.2,"n":2},{"x":2.9,"y":2.9,"n":2},{"x":2.6,"y":1.6,"n":2},{"x":10.72,"y":9.0,"n":3},{"x":10.72,"y":10.5,"n":3},
      {"x":9.6,"y":9.9,"n":3},{"x":10.3,"y":10.0,"n":3},{"x":9.3,"y":9.7,"n":3},{"x":8.9,"y":9.3,"n":3},{"x":8.5,"y":8.6,"n":2},{"x":7.8,"y":7.9,"n":2},{"x":7.0,"y":7.2,"n":2},{"x":6.4,"y":6.3,"n":2}
    ],
    "box_c": [
      {"comp":"Colchicine","rep":"1","lo":0.01,"q1":0.0195,"med":0.025,"q3":0.03,"hi":0.048},
      {"comp":"Colchicine","rep":"2","lo":0.01,"q1":0.01,"q3":1.0,"hi":1.0},
      {"comp":"Cycloheximide","rep":"1","lo":0.032,"q1":0.375,"med":0.58,"q3":0.87,"hi":1.2},
      {"comp":"Cycloheximide","rep":"2","lo":0.22,"q1":0.39,"med":0.46,"q3":0.58,"hi":1.2},
      {"comp":"8-Hydroxyquinoline","rep":"1","lo":0.88,"q1":1.46,"med":2.4,"q3":4.3,"hi":10.5},
      {"comp":"8-Hydroxyquinoline","rep":"2","lo":0.042,"q1":0.71,"med":1.65,"q3":2.04,"hi":10},
      {"comp":"Captan","rep":"1","lo":0.01,"q1":1.5,"med":2.9,"q3":5.1,"hi":6.2},
      {"comp":"Captan","rep":"2","lo":2.1,"q1":3.5,"med":5.0,"q3":5.4,"hi":6.5},
      {"comp":"TE glycol diacrylate","rep":"1","lo":3.4,"q1":6.5,"med":8.3,"q3":9.8,"hi":18},
      {"comp":"TE glycol diacrylate","rep":"2","lo":2.3,"q1":4.3,"med":6.4,"q3":7.3,"hi":10},
      {"comp":"Kepone","rep":"1","lo":15,"q1":18.7,"med":20.3,"q3":21.5,"hi":25.7},
      {"comp":"Kepone","rep":"2","lo":15,"q1":28.5,"med":45,"q3":48,"hi":50},
      {"comp":"t-Butylhydroquinone","rep":"1","lo":10,"q1":19,"med":25.7,"q3":37,"hi":45},
      {"comp":"t-Butylhydroquinone","rep":"2","lo":1.8,"q1":26,"med":43,"q3":47,"hi":50},
      {"comp":"Zearalenone","rep":"1","lo":32,"q1":45,"med":47,"q3":50,"hi":50},
      {"comp":"Zearalenone","rep":"2","lo":26,"q1":46,"med":48,"q3":50,"hi":50}
    ],
    "out_c": [
      {"comp":"Colchicine","rep":"1","v":1.0},{"comp":"Colchicine","rep":"1","v":0.15},{"comp":"Colchicine","rep":"2","v":0.05},
      {"comp":"Cycloheximide","rep":"1","v":1.5},{"comp":"Cycloheximide","rep":"1","v":0.02},{"comp":"Cycloheximide","rep":"1","v":0.021},{"comp":"Cycloheximide","rep":"2","v":0.1},
      {"comp":"8-Hydroxyquinoline","rep":"1","v":28},{"comp":"8-Hydroxyquinoline","rep":"1","v":0.75},{"comp":"8-Hydroxyquinoline","rep":"2","v":20},{"comp":"8-Hydroxyquinoline","rep":"2","v":0.03},{"comp":"8-Hydroxyquinoline","rep":"2","v":0.01},
      {"comp":"Captan","rep":"1","v":10},{"comp":"Captan","rep":"1","v":1.0},{"comp":"Captan","rep":"2","v":12},{"comp":"Captan","rep":"2","v":0.5},{"comp":"Captan","rep":"2","v":1.8},
      {"comp":"TE glycol diacrylate","rep":"1","v":25},{"comp":"TE glycol diacrylate","rep":"1","v":1.0},{"comp":"TE glycol diacrylate","rep":"1","v":3.0},{"comp":"TE glycol diacrylate","rep":"2","v":15},{"comp":"TE glycol diacrylate","rep":"2","v":2.1},
      {"comp":"Kepone","rep":"1","v":33},{"comp":"Kepone","rep":"1","v":7},{"comp":"Kepone","rep":"1","v":12},{"comp":"Kepone","rep":"2","v":11},
      {"comp":"t-Butylhydroquinone","rep":"1","v":7},{"comp":"t-Butylhydroquinone","rep":"1","v":48},{"comp":"t-Butylhydroquinone","rep":"2","v":0.9},{"comp":"t-Butylhydroquinone","rep":"2","v":0.8},
      {"comp":"Zearalenone","rep":"1","v":28},{"comp":"Zearalenone","rep":"2","v":0.9},{"comp":"Zearalenone","rep":"2","v":0.35},{"comp":"Zearalenone","rep":"2","v":0.01}
    ],
    "box_d": [
      {"comp":"Colchicine","rep":"1","lo":0.02,"q1":0.0256,"med":0.032,"q3":0.041,"hi":0.12},
      {"comp":"Colchicine","rep":"2","lo":0.0102,"q1":0.0225,"med":0.027,"q3":0.036,"hi":0.065},
      {"comp":"Cycloheximide","rep":"1","lo":1.05,"q1":2.6,"med":4.0,"q3":10.6,"hi":45},
      {"comp":"Cycloheximide","rep":"2","lo":1.1,"q1":3.4,"med":5.8,"q3":12.9,"hi":50},
      {"comp":"8-Hydroxyquinoline","rep":"1","lo":0.69,"q1":1.31,"med":1.88,"q3":2.76,"hi":11.9},
      {"comp":"8-Hydroxyquinoline","rep":"2","lo":0.23,"q1":0.66,"med":1.65,"q3":3.5,"hi":19.3},
      {"comp":"Captan","rep":"1","lo":0.86,"q1":2.1,"med":4.1,"q3":5.4,"hi":13},
      {"comp":"Captan","rep":"2","lo":1.8,"q1":3.4,"med":4.5,"q3":5.8,"hi":10.5},
      {"comp":"TE glycol diacrylate","rep":"1","lo":5.2,"q1":5.2,"med":7.8,"q3":12.7,"hi":19},
      {"comp":"TE glycol diacrylate","rep":"2","lo":3.9,"q1":6.6,"med":7.7,"q3":8.8,"hi":14.8},
      {"comp":"Kepone","rep":"1","lo":18.9,"q1":18.9,"med":26.6,"q3":37.4,"hi":50},
      {"comp":"Kepone","rep":"2","lo":24.5,"q1":41.4,"med":47.6,"q3":50,"hi":50},
      {"comp":"t-Butylhydroquinone","rep":"1","lo":27,"q1":45,"med":48,"q3":50,"hi":50},
      {"comp":"t-Butylhydroquinone","rep":"2","lo":30,"q1":45,"med":48,"q3":50,"hi":50},
      {"comp":"Zearalenone","rep":"1","lo":24.5,"q1":45,"med":48,"q3":50,"hi":50},
      {"comp":"Zearalenone","rep":"2","lo":26,"q1":38.5,"med":43,"q3":49.5,"hi":50}
    ],
    "out_d": [
      {"comp":"Colchicine","rep":"1","v":0.4},{"comp":"Colchicine","rep":"1","v":0.15},{"comp":"Colchicine","rep":"2","v":0.47},{"comp":"Colchicine","rep":"2","v":0.13},{"comp":"Colchicine","rep":"2","v":0.009},
      {"comp":"Cycloheximide","rep":"1","v":0.7},{"comp":"Cycloheximide","rep":"1","v":0.5},{"comp":"Cycloheximide","rep":"1","v":48},{"comp":"Cycloheximide","rep":"2","v":0.8},{"comp":"Cycloheximide","rep":"2","v":0.55},{"comp":"Cycloheximide","rep":"2","v":50},
      {"comp":"8-Hydroxyquinoline","rep":"1","v":0.47},{"comp":"8-Hydroxyquinoline","rep":"1","v":25},{"comp":"8-Hydroxyquinoline","rep":"2","v":0.2},{"comp":"8-Hydroxyquinoline","rep":"2","v":50},
      {"comp":"Captan","rep":"1","v":0.55},{"comp":"Captan","rep":"1","v":30},{"comp":"Captan","rep":"2","v":1.0},{"comp":"Captan","rep":"2","v":50},{"comp":"Captan","rep":"2","v":15},
      {"comp":"TE glycol diacrylate","rep":"1","v":45},{"comp":"TE glycol diacrylate","rep":"1","v":27},{"comp":"TE glycol diacrylate","rep":"2","v":3.0},{"comp":"TE glycol diacrylate","rep":"2","v":22},
      {"comp":"Kepone","rep":"1","v":9},{"comp":"Kepone","rep":"2","v":22},
      {"comp":"t-Butylhydroquinone","rep":"1","v":21},{"comp":"t-Butylhydroquinone","rep":"1","v":12},{"comp":"t-Butylhydroquinone","rep":"2","v":12},
      {"comp":"Zearalenone","rep":"1","v":21}
    ]
  },
  "concat": [
    {
      "width": 291, "height": 244,
      "title": {"text": "a", "dx": -35, "dy": 22},
      "view": {"stroke": "#9a9a9a"},
      "encoding": {
        "x": {"field": "x", "type": "quantitative", "scale": {"domain": [-2, 11.5], "nice": false, "zero": false},
              "axis": {"values": [0, 2, 4, 6, 8, 10], "title": "Log(curve P) - Replicate 1", "labelPadding": 3, "titlePadding": 0}},
        "y": {"field": "y", "type": "quantitative", "scale": {"domain": [-2, 11.55], "nice": false, "zero": false},
              "axis": {"values": [0, 2, 4, 6, 8, 10], "title": "Log(curve P) - Replicate 2", "titlePadding": 4}}
      },
      "layer": [
        {"data": {"name": "a_pts"}, "mark": {"type": "circle", "size": 16, "color": "#000000", "opacity": 1}},
        {"data": {"name": "a_blobs"}, "mark": {"type": "circle", "color": "#000000", "opacity": 1},
         "encoding": {"size": {"field": "n", "type": "quantitative", "scale": {"domain": [1, 8], "range": [16, 120]}, "legend": null}}}
      ]
    },
    {
      "width": 289, "height": 244,
      "title": {"text": "b", "dx": -19, "dy": 22},
      "view": {"stroke": "#9a9a9a"},
      "encoding": {
        "x": {"field": "x", "type": "quantitative", "scale": {"domain": [-1.95, 11.37], "nice": false, "zero": false},
              "axis": {"values": [0, 2, 4, 6, 8, 10], "title": "Log(curve P) - Replicate 1", "labelPadding": 3, "titlePadding": 0}},
        "y": {"field": "y", "type": "quantitative", "scale": {"domain": [-2, 11.55], "nice": false, "zero": false},
              "axis": {"values": [0, 2, 4, 6, 8, 10], "labels": false, "title": null}}
      },
      "layer": [
        {"data": {"name": "b_pts"}, "mark": {"type": "circle", "size": 16, "color": "#000000", "opacity": 1}},
        {"data": {"name": "b_blobs"}, "mark": {"type": "circle", "color": "#000000", "opacity": 1},
         "encoding": {"size": {"field": "n", "type": "quantitative", "scale": {"domain": [1, 8], "range": [16, 120]}, "legend": null}}}
      ]
    },
    {
      "width": 291, "height": 192,
      "title": {"text": "c", "dx": -35, "dy": -5},
      "encoding": {
        "x": {"field": "comp", "type": "nominal",
              "sort": ["Colchicine", "Cycloheximide", "8-Hydroxyquinoline", "Captan", "TE glycol diacrylate", "Kepone", "t-Butylhydroquinone", "Zearalenone"],
              "scale": {"paddingInner": 0, "paddingOuter": 0},
              "axis": {"title": null, "labelAngle": -45, "labelAlign": "right", "labelBaseline": "middle", "labelFontSize": 13.5, "labelPadding": 3, "tickSize": 5, "domainColor": "#9a9a9a"}},
        "xOffset": {"field": "rep", "type": "nominal", "scale": {"paddingInner": 0, "paddingOuter": 0}}
      },
      "layer": [
        {"data": {"name": "box_c"}, "mark": {"type": "rule", "color": "#555555", "strokeWidth": 1},
         "encoding": {
           "y": {"field": "lo", "type": "quantitative", "title": "[curve P] μM", "scale": {"type": "log", "domain": [0.001, 100], "nice": false},
                 "axis": {"values": [0.001,0.002,0.003,0.004,0.005,0.006,0.007,0.008,0.009,0.01,0.02,0.03,0.04,0.05,0.06,0.07,0.08,0.09,0.1,0.2,0.3,0.4,0.5,0.6,0.7,0.8,0.9,1,2,3,4,5,6,7,8,9,10,20,30,40,50,60,70,80,90,100],
                          "format": "~g",
                          "labelExpr": "indexof([0.001,0.01,0.1,1,10,100], datum.value) >= 0 ? datum.label : ''",
                          "tickSize": {"condition": {"test": "indexof([0.001,0.01,0.1,1,10,100], datum.value) >= 0", "value": 5}, "value": 2.5},
                          "labelPadding": 3,
                          "domainColor": "#9a9a9a",
                          "titleFontSize": 15, "titleX": -33, "titleY": 98, "titleBaseline": "middle"}},
           "y2": {"field": "hi"}}},
        {"data": {"name": "box_c"}, "mark": {"type": "tick", "color": "#555555", "size": 6, "thickness": 1},
         "encoding": {"y": {"field": "hi", "type": "quantitative", "title": "[curve P] μM"}}},
        {"data": {"name": "box_c"}, "mark": {"type": "tick", "color": "#555555", "size": 6, "thickness": 1},
         "encoding": {"y": {"field": "lo", "type": "quantitative", "title": "[curve P] μM"}}},
        {"data": {"name": "box_c"}, "mark": {"type": "bar", "width": 12, "stroke": "#444444", "strokeWidth": 0.8},
         "encoding": {
           "y": {"field": "q1", "type": "quantitative", "title": "[curve P] μM"}, "y2": {"field": "q3"},
           "color": {"field": "comp", "type": "nominal",
                     "scale": {"domain": ["Colchicine", "Cycloheximide", "8-Hydroxyquinoline", "Captan", "TE glycol diacrylate", "Kepone", "t-Butylhydroquinone", "Zearalenone"],
                               "range": ["#f4837d", "#1fe51f", "#c6d9f1", "#e7c6ef", "#a50e0e", "#1a8ea3", "#f04fd6", "#e8847e"]},
                     "legend": null}}},
        {"data": {"name": "box_c"}, "mark": {"type": "tick", "color": "#333333", "size": 12, "thickness": 1},
         "encoding": {"y": {"field": "med", "type": "quantitative", "title": "[curve P] μM"}}},
        {"data": {"name": "out_c"}, "mark": {"type": "circle", "size": 4, "color": "#777777", "opacity": 1},
         "encoding": {"y": {"field": "v", "type": "quantitative", "title": "[curve P] μM"}}}
      ]
    },
    {
      "width": 289, "height": 192,
      "title": {"text": "d", "dx": -20, "dy": -7},
      "encoding": {
        "x": {"field": "comp", "type": "nominal",
              "sort": ["Colchicine", "Cycloheximide", "8-Hydroxyquinoline", "Captan", "TE glycol diacrylate", "Kepone", "t-Butylhydroquinone", "Zearalenone"],
              "scale": {"paddingInner": 0, "paddingOuter": 0},
              "axis": {"title": null, "labelAngle": -45, "labelAlign": "right", "labelBaseline": "middle", "labelFontSize": 13.5, "labelPadding": 3, "tickSize": 5, "domainColor": "#9a9a9a"}},
        "xOffset": {"field": "rep", "type": "nominal", "scale": {"paddingInner": 0, "paddingOuter": 0}}
      },
      "layer": [
        {"data": {"name": "box_d"}, "mark": {"type": "rule", "color": "#555555", "strokeWidth": 1},
         "encoding": {
           "y": {"field": "lo", "type": "quantitative", "title": null, "scale": {"type": "log", "domain": [0.001, 100], "nice": false},
                 "axis": {"values": [0.001,0.002,0.003,0.004,0.005,0.006,0.007,0.008,0.009,0.01,0.02,0.03,0.04,0.05,0.06,0.07,0.08,0.09,0.1,0.2,0.3,0.4,0.5,0.6,0.7,0.8,0.9,1,2,3,4,5,6,7,8,9,10,20,30,40,50,60,70,80,90,100],
                          "labels": false,
                          "tickSize": {"condition": {"test": "indexof([0.001,0.01,0.1,1,10,100], datum.value) >= 0", "value": 4}, "value": 2},
                          "domainColor": "#9a9a9a"}},
           "y2": {"field": "hi"}}},
        {"data": {"name": "box_d"}, "mark": {"type": "tick", "color": "#555555", "size": 6, "thickness": 1},
         "encoding": {"y": {"field": "hi", "type": "quantitative", "title": null}}},
        {"data": {"name": "box_d"}, "mark": {"type": "tick", "color": "#555555", "size": 6, "thickness": 1},
         "encoding": {"y": {"field": "lo", "type": "quantitative", "title": null}}},
        {"data": {"name": "box_d"}, "mark": {"type": "bar", "width": 12, "stroke": "#444444", "strokeWidth": 0.8},
         "encoding": {
           "y": {"field": "q1", "type": "quantitative", "title": null}, "y2": {"field": "q3"},
           "color": {"field": "comp", "type": "nominal",
                     "scale": {"domain": ["Colchicine", "Cycloheximide", "8-Hydroxyquinoline", "Captan", "TE glycol diacrylate", "Kepone", "t-Butylhydroquinone", "Zearalenone"],
                               "range": ["#f4837d", "#1fe51f", "#c6d9f1", "#e7c6ef", "#a50e0e", "#1a8ea3", "#f04fd6", "#e8847e"]},
                     "legend": null}}},
        {"data": {"name": "box_d"}, "mark": {"type": "tick", "color": "#333333", "size": 12, "thickness": 1},
         "encoding": {"y": {"field": "med", "type": "quantitative", "title": null}}},
        {"data": {"name": "out_d"}, "mark": {"type": "circle", "size": 4, "color": "#777777", "opacity": 1},
         "encoding": {"y": {"field": "v", "type": "quantitative", "title": null}}}
      ]
    }
  ],
  "columns": 2,
  "spacing": {"row": 70, "column": 21},
  "bounds": "flush",
  "align": "each"
}
